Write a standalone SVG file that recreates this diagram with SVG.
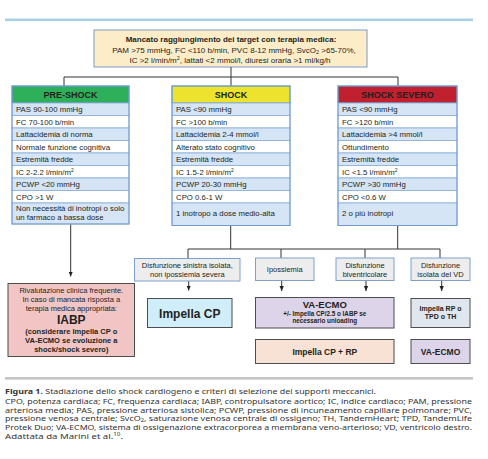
<svg xmlns="http://www.w3.org/2000/svg" width="488" height="459" viewBox="0 0 488 459">
<style>
text{font-family:"Liberation Sans",Arial,sans-serif;fill:#231f20}
.t{font-size:7.5px}
.r{font-size:7.8px}
.tp{font-size:8px}
.c{text-anchor:middle}
.b{font-weight:bold}
.rb{fill:#d5e5f5;stroke:#86acd6;stroke-width:0.8}
.rw{fill:#ffffff;stroke:#86acd6;stroke-width:0.8}
.ob{fill:none;stroke:#6f9bd0;stroke-width:1}
.ds{fill:#ededed;stroke:#7ca1cc;stroke-width:1}
.rs{stroke:#4d4d4d;stroke-width:1}
.cap{font-family:"Noto Sans","Open Sans",sans-serif;font-size:7.8px;fill:#333}
.ln{stroke:#333;stroke-width:1;fill:none}
</style>
<defs>
<marker id="ah" markerWidth="6" markerHeight="6" refX="5" refY="3" orient="auto" markerUnits="userSpaceOnUse">
<path d="M0,0.8 L5,3 L0,5.2 Z" fill="#222"/>
</marker>
</defs>
<rect x="5" y="18.5" width="468" height="2.6" fill="#a9cfe6"/>

<g id="top">
<rect x="94" y="30" width="273" height="37" fill="#fdecc8" stroke="#7a9cc6" stroke-width="1"/>
<text class="tp c b" x="231" y="42">Mancato raggiungimento dei target con terapia medica:</text>
<text class="tp c" x="234" y="52.5">PAM &gt;75 mmHg, FC &lt;110 b/min, PVC 8-12 mmHg, SvcO<tspan font-size="5.5" dy="1.5">2</tspan><tspan dy="-1.5"> &gt;65-70%,</tspan></text>
<text class="tp c" x="230" y="62.5">IC &gt;2 l/min/m<tspan font-size="5.5" dy="-2.5">2</tspan><tspan dy="2.5">, lattati &lt;2 mmol/l, diuresi oraria &gt;1 ml/kg/h</tspan></text>
</g>

<g id="connectors">
<path class="ln" d="M231,67 V77 M64,86 V77 H398 V86 M231,77 V86"/>
<path class="ln" d="M70.7,224 V276.5" marker-end="url(#ah)"/>
<path class="ln" d="M230.7,225.5 V249 M397.7,225.5 V249 M188,249 H440 M188,249 V258.5 M281,249 V258 M365,249 V258 M440,249 V258"/>
<path class="ln" d="M188.7,281 V290.5" marker-end="url(#ah)"/>
<path class="ln" d="M281.7,281 V291" marker-end="url(#ah)"/>
<path class="ln" d="M366,281 V291" marker-end="url(#ah)"/>
<path class="ln" d="M441.7,281 V291" marker-end="url(#ah)"/>
</g>

<g id="preshock">
<rect x="12" y="86" width="117" height="17" fill="#2eb05a" stroke="#6f9bd0" stroke-width="1"/>
<text class="c b" x="70.5" y="98" font-size="9">PRE-SHOCK</text>
<rect class="rb" x="12" y="103" width="117" height="12.5"/>
<rect class="rw" x="12" y="115.5" width="117" height="12.5"/>
<rect class="rb" x="12" y="128" width="117" height="12.5"/>
<rect class="rw" x="12" y="140.5" width="117" height="12.5"/>
<rect class="rb" x="12" y="153" width="117" height="12.5"/>
<rect class="rw" x="12" y="165.5" width="117" height="12.5"/>
<rect class="rb" x="12" y="178" width="117" height="12.5"/>
<rect class="rw" x="12" y="190.5" width="117" height="12.5"/>
<rect class="rb" x="12" y="203" width="117" height="21"/>
<rect class="ob" x="12" y="86" width="117" height="138"/>
<text class="r" x="16" y="112">PAS 90-100 mmHg</text>
<text class="r" x="16" y="124.5">FC 70-100 b/min</text>
<text class="r" x="16" y="137">Lattacidemia di norma</text>
<text class="r" x="16" y="149.5">Normale funzione cognitiva</text>
<text class="r" x="16" y="162">Estremità fredde</text>
<text class="r" x="16" y="174.5">IC 2-2.2 l/min/m<tspan font-size="5" dy="-2.5">2</tspan></text>
<text class="r" x="16" y="187">PCWP &lt;20 mmHg</text>
<text class="r" x="16" y="199.5">CPO &gt;1 W</text>
<text class="r" x="16" y="211">Non necessità di inotropi o solo</text>
<text class="r" x="16" y="220">un farmaco a bassa dose</text>
</g>

<g id="shock">
<rect x="172" y="86" width="118" height="17" fill="#ede32f" stroke="#6f9bd0" stroke-width="1"/>
<text class="c b" x="231" y="98" font-size="9">SHOCK</text>
<rect class="rb" x="172" y="103" width="118" height="12.5"/>
<rect class="rw" x="172" y="115.5" width="118" height="12.5"/>
<rect class="rb" x="172" y="128" width="118" height="12.5"/>
<rect class="rw" x="172" y="140.5" width="118" height="12.5"/>
<rect class="rb" x="172" y="153" width="118" height="12.5"/>
<rect class="rw" x="172" y="165.5" width="118" height="12.5"/>
<rect class="rb" x="172" y="178" width="118" height="12.5"/>
<rect class="rw" x="172" y="190.5" width="118" height="12.5"/>
<rect class="rb" x="172" y="203" width="118" height="22.5"/>
<rect class="ob" x="172" y="86" width="118" height="139.5"/>
<text class="r" x="176" y="112">PAS &lt;90 mmHg</text>
<text class="r" x="176" y="124.5">FC &gt;100 b/min</text>
<text class="r" x="176" y="137">Lattacidemia 2-4 mmol/l</text>
<text class="r" x="176" y="149.5">Alterato stato cognitivo</text>
<text class="r" x="176" y="162">Estremità fredde</text>
<text class="r" x="176" y="174.5">IC 1.5-2 l/min/m<tspan font-size="5" dy="-2.5">2</tspan></text>
<text class="r" x="176" y="187">PCWP 20-30 mmHg</text>
<text class="r" x="176" y="199.5">CPO 0.6-1 W</text>
<text class="r" x="176" y="216">1 inotropo a dose medio-alta</text>
</g>

<g id="shocksevero">
<rect x="338" y="86" width="119" height="17" fill="#c1202f" stroke="#6f9bd0" stroke-width="1"/>
<text class="c b" x="397.5" y="98" font-size="9">SHOCK SEVERO</text>
<rect class="rb" x="338" y="103" width="119" height="12.5"/>
<rect class="rw" x="338" y="115.5" width="119" height="12.5"/>
<rect class="rb" x="338" y="128" width="119" height="12.5"/>
<rect class="rw" x="338" y="140.5" width="119" height="12.5"/>
<rect class="rb" x="338" y="153" width="119" height="12.5"/>
<rect class="rw" x="338" y="165.5" width="119" height="12.5"/>
<rect class="rb" x="338" y="178" width="119" height="12.5"/>
<rect class="rw" x="338" y="190.5" width="119" height="12.5"/>
<rect class="rb" x="338" y="203" width="119" height="22.5"/>
<rect class="ob" x="338" y="86" width="119" height="139.5"/>
<text class="r" x="342" y="112">PAS &lt;90 mmHg</text>
<text class="r" x="342" y="124.5">FC &gt;120 b/min</text>
<text class="r" x="342" y="137">Lattacidemia &gt;4 mmol/l</text>
<text class="r" x="342" y="149.5">Ottundimento</text>
<text class="r" x="342" y="162">Estremità fredde</text>
<text class="r" x="342" y="174.5">IC &lt;1.5 l/min/m<tspan font-size="5" dy="-2.5">2</tspan></text>
<text class="r" x="342" y="187">PCWP &gt;30 mmHg</text>
<text class="r" x="342" y="199.5">CPO &lt;0.6 W</text>
<text class="r" x="342" y="216">2 o più inotropi</text>
</g>

<g id="iabp">
<rect class="rs" x="8" y="283.5" width="126.5" height="73" fill="#f2c5c5"/>
<text class="t c" x="71.3" y="292.5">Rivalutazione clinica frequente.</text>
<text class="t c" x="71.3" y="301.5">In caso di mancata risposta a</text>
<text class="t c" x="71.3" y="310.5">terapia medica appropriata:</text>
<text class="c b" x="71.3" y="323.5" font-size="12">IABP</text>
<text class="t c b" x="71.3" y="334">(considerare Impella CP o</text>
<text class="t c b" x="71.3" y="343">VA-ECMO se evoluzione a</text>
<text class="t c b" x="71.3" y="352">shock/shock severo)</text>
</g>

<g id="dsx">
<rect class="ds" x="134.5" y="258.5" width="105.5" height="22.5"/>
<text class="t c" x="187.3" y="267.5">Disfunzione sinistra isolata,</text>
<text class="t c" x="187.3" y="276.5">non ipossiemia severa</text>
</g>
<g id="ipo">
<rect class="ds" x="255.5" y="258" width="58.5" height="22.5"/>
<text class="t c" x="284.8" y="272">Ipossiemia</text>
</g>
<g id="biv">
<rect class="ds" x="336" y="258" width="58" height="22.5"/>
<text class="t c" x="365" y="267.5">Disfunzione</text>
<text class="t c" x="365" y="276.5">biventricolare</text>
</g>
<g id="vd">
<rect class="ds" x="411" y="258" width="59" height="22.5"/>
<text class="t c" x="440.5" y="267.5">Disfunzione</text>
<text class="t c" x="440.5" y="276.5">isolata del VD</text>
</g>

<g id="impellacp">
<rect class="rs" x="147.5" y="298.5" width="84.5" height="29" fill="#cfeef9"/>
<text class="c b" x="189.8" y="317.5" font-size="12">Impella CP</text>
</g>
<g id="vaecmo1">
<rect class="rs" x="255.5" y="297.5" width="138.5" height="30.5" fill="#ddd4ea"/>
<text class="c b" x="324.8" y="307.5" font-size="9.5">VA-ECMO</text>
<text class="c b" x="324.8" y="315.5" font-size="6.3">+/- Impella CP/2.5 o IABP se</text>
<text class="c b" x="324.8" y="323" font-size="6.3">necessario unloading</text>
</g>
<g id="impellacprp">
<rect class="rs" x="255.5" y="339.5" width="138.5" height="24" fill="#f8e2d5"/>
<text class="c b" x="324.8" y="354.5" font-size="8.5">Impella CP + RP</text>
</g>
<g id="impellarp">
<rect class="rs" x="411" y="298.5" width="59" height="29" fill="#dfe6ee"/>
<text class="c b" x="440.5" y="310.5" font-size="7">Impella RP o</text>
<text class="c b" x="440.5" y="319" font-size="7">TPD o TH</text>
</g>
<g id="vaecmo2">
<rect class="rs" x="411" y="339.5" width="59" height="24" fill="#ddd4ea"/>
<text class="c b" x="440.5" y="354.5" font-size="8.5">VA-ECMO</text>
</g>

<rect x="5" y="377" width="468" height="2.6" fill="#c4c4c4"/>

<text class="cap" x="5" y="393.5" textLength="371" lengthAdjust="spacingAndGlyphs"><tspan font-weight="bold">Figura 1.</tspan> Stadiazione dello shock cardiogeno e criteri di selezione dei supporti meccanici.</text>
<text class="cap" x="5" y="404" textLength="467" lengthAdjust="spacingAndGlyphs">CPO, potenza cardiaca; FC, frequenza cardiaca; IABP, contropulsatore aortico; IC, indice cardiaco; PAM, pressione</text>
<text class="cap" x="5" y="412.7" textLength="467" lengthAdjust="spacingAndGlyphs">arteriosa media; PAS, pressione arteriosa sistolica; PCWP, pressione di incuneamento capillare polmonare; PVC,</text>
<text class="cap" x="5" y="421.4" textLength="467" lengthAdjust="spacingAndGlyphs">pressione venosa centrale; SvcO<tspan font-size="5" dy="1">2</tspan><tspan dy="-1">, saturazione venosa centrale di ossigeno; TH, TandemHeart; TPD, TandemLife</tspan></text>
<text class="cap" x="5" y="430.1" textLength="467" lengthAdjust="spacingAndGlyphs">Protek Duo; VA-ECMO, sistema di ossigenazione extracorporea a membrana veno-arterioso; VD, ventricolo destro.</text>
<text class="cap" x="5" y="438.8" textLength="118" lengthAdjust="spacingAndGlyphs">Adattata da Marini et al.<tspan font-size="5" dy="-3">10</tspan><tspan dy="3">.</tspan></text>
</svg>
